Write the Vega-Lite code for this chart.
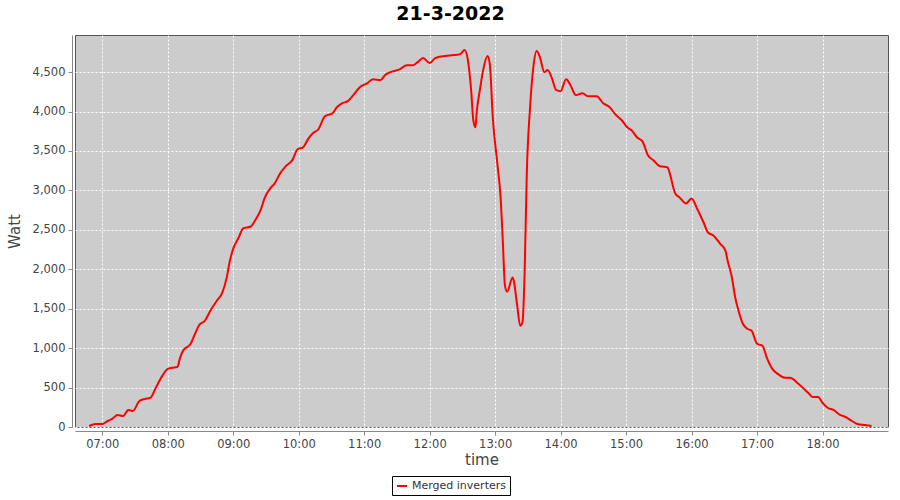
{
  "$schema": "https://vega.github.io/schema/vega-lite/v6.json",
  "width": 813,
  "height": 392,
  "autosize": "none",
  "padding": {"left": 75, "top": 35, "right": 12, "bottom": 73},
  "background": "white",
  "config": {
    "view": {"fill": "#CCCCCC", "stroke": "#555555", "strokeWidth": 1}
  },
  "title": {
    "text": "21-3-2022",
    "fontSize": 19,
    "fontWeight": "bold",
    "font": "DejaVu Sans",
    "color": "black",
    "anchor": "middle",
    "dx": -31,
    "offset": 11
  },
  "data": {
    "values": [
      {"time": "2022-03-21T06:48", "watt": 13},
      {"time": "2022-03-21T06:54", "watt": 38},
      {"time": "2022-03-21T07:00", "watt": 38},
      {"time": "2022-03-21T07:05", "watt": 76},
      {"time": "2022-03-21T07:09", "watt": 102},
      {"time": "2022-03-21T07:14", "watt": 153},
      {"time": "2022-03-21T07:19", "watt": 140},
      {"time": "2022-03-21T07:24", "watt": 216},
      {"time": "2022-03-21T07:28", "watt": 203},
      {"time": "2022-03-21T07:34", "watt": 330},
      {"time": "2022-03-21T07:39", "watt": 356},
      {"time": "2022-03-21T07:44", "watt": 369},
      {"time": "2022-03-21T07:49", "watt": 496},
      {"time": "2022-03-21T07:55", "watt": 648},
      {"time": "2022-03-21T08:00", "watt": 737},
      {"time": "2022-03-21T08:04", "watt": 750},
      {"time": "2022-03-21T08:09", "watt": 763},
      {"time": "2022-03-21T08:11", "watt": 864},
      {"time": "2022-03-21T08:14", "watt": 966},
      {"time": "2022-03-21T08:21", "watt": 1055},
      {"time": "2022-03-21T08:25", "watt": 1182},
      {"time": "2022-03-21T08:29", "watt": 1296},
      {"time": "2022-03-21T08:34", "watt": 1347},
      {"time": "2022-03-21T08:39", "watt": 1474},
      {"time": "2022-03-21T08:45", "watt": 1601},
      {"time": "2022-03-21T08:50", "watt": 1703},
      {"time": "2022-03-21T08:54", "watt": 1894},
      {"time": "2022-03-21T08:57", "watt": 2110},
      {"time": "2022-03-21T09:00", "watt": 2262},
      {"time": "2022-03-21T09:05", "watt": 2402},
      {"time": "2022-03-21T09:09", "watt": 2517},
      {"time": "2022-03-21T09:16", "watt": 2542},
      {"time": "2022-03-21T09:20", "watt": 2618},
      {"time": "2022-03-21T09:25", "watt": 2745},
      {"time": "2022-03-21T09:29", "watt": 2911},
      {"time": "2022-03-21T09:34", "watt": 3025},
      {"time": "2022-03-21T09:38", "watt": 3089},
      {"time": "2022-03-21T09:43", "watt": 3216},
      {"time": "2022-03-21T09:48", "watt": 3305},
      {"time": "2022-03-21T09:54", "watt": 3381},
      {"time": "2022-03-21T09:59", "watt": 3521},
      {"time": "2022-03-21T10:04", "watt": 3546},
      {"time": "2022-03-21T10:09", "watt": 3660},
      {"time": "2022-03-21T10:13", "watt": 3724},
      {"time": "2022-03-21T10:18", "watt": 3775},
      {"time": "2022-03-21T10:24", "watt": 3940},
      {"time": "2022-03-21T10:31", "watt": 3978},
      {"time": "2022-03-21T10:35", "watt": 4054},
      {"time": "2022-03-21T10:40", "watt": 4105},
      {"time": "2022-03-21T10:45", "watt": 4131},
      {"time": "2022-03-21T10:50", "watt": 4207},
      {"time": "2022-03-21T10:56", "watt": 4309},
      {"time": "2022-03-21T11:03", "watt": 4360},
      {"time": "2022-03-21T11:08", "watt": 4410},
      {"time": "2022-03-21T11:15", "watt": 4398},
      {"time": "2022-03-21T11:19", "watt": 4461},
      {"time": "2022-03-21T11:24", "watt": 4499},
      {"time": "2022-03-21T11:33", "watt": 4537},
      {"time": "2022-03-21T11:39", "watt": 4588},
      {"time": "2022-03-21T11:45", "watt": 4588},
      {"time": "2022-03-21T11:49", "watt": 4626},
      {"time": "2022-03-21T11:54", "watt": 4677},
      {"time": "2022-03-21T12:00", "watt": 4614},
      {"time": "2022-03-21T12:05", "watt": 4677},
      {"time": "2022-03-21T12:14", "watt": 4703},
      {"time": "2022-03-21T12:22", "watt": 4715},
      {"time": "2022-03-21T12:28", "watt": 4728},
      {"time": "2022-03-21T12:32", "watt": 4779},
      {"time": "2022-03-21T12:35", "watt": 4652},
      {"time": "2022-03-21T12:38", "watt": 4271},
      {"time": "2022-03-21T12:40", "watt": 3889},
      {"time": "2022-03-21T12:42", "watt": 3800},
      {"time": "2022-03-21T12:43", "watt": 3978},
      {"time": "2022-03-21T12:46", "watt": 4271},
      {"time": "2022-03-21T12:49", "watt": 4525},
      {"time": "2022-03-21T12:53", "watt": 4703},
      {"time": "2022-03-21T12:55", "watt": 4614},
      {"time": "2022-03-21T12:58", "watt": 3889},
      {"time": "2022-03-21T13:02", "watt": 3343},
      {"time": "2022-03-21T13:05", "watt": 2911},
      {"time": "2022-03-21T13:07", "watt": 2364},
      {"time": "2022-03-21T13:09", "watt": 1792},
      {"time": "2022-03-21T13:11", "watt": 1716},
      {"time": "2022-03-21T13:16", "watt": 1894},
      {"time": "2022-03-21T13:17", "watt": 1856},
      {"time": "2022-03-21T13:20", "watt": 1563},
      {"time": "2022-03-21T13:23", "watt": 1284},
      {"time": "2022-03-21T13:25", "watt": 1322},
      {"time": "2022-03-21T13:27", "watt": 1945},
      {"time": "2022-03-21T13:29", "watt": 3216},
      {"time": "2022-03-21T13:32", "watt": 4054},
      {"time": "2022-03-21T13:35", "watt": 4563},
      {"time": "2022-03-21T13:38", "watt": 4766},
      {"time": "2022-03-21T13:41", "watt": 4690},
      {"time": "2022-03-21T13:45", "watt": 4499},
      {"time": "2022-03-21T13:48", "watt": 4525},
      {"time": "2022-03-21T13:52", "watt": 4423},
      {"time": "2022-03-21T13:56", "watt": 4271},
      {"time": "2022-03-21T14:00", "watt": 4258},
      {"time": "2022-03-21T14:05", "watt": 4410},
      {"time": "2022-03-21T14:09", "watt": 4334},
      {"time": "2022-03-21T14:14", "watt": 4207},
      {"time": "2022-03-21T14:20", "watt": 4232},
      {"time": "2022-03-21T14:25", "watt": 4194},
      {"time": "2022-03-21T14:33", "watt": 4194},
      {"time": "2022-03-21T14:39", "watt": 4105},
      {"time": "2022-03-21T14:45", "watt": 4054},
      {"time": "2022-03-21T14:50", "watt": 3966},
      {"time": "2022-03-21T14:56", "watt": 3889},
      {"time": "2022-03-21T15:01", "watt": 3800},
      {"time": "2022-03-21T15:05", "watt": 3762},
      {"time": "2022-03-21T15:10", "watt": 3673},
      {"time": "2022-03-21T15:15", "watt": 3622},
      {"time": "2022-03-21T15:20", "watt": 3444},
      {"time": "2022-03-21T15:25", "watt": 3381},
      {"time": "2022-03-21T15:31", "watt": 3305},
      {"time": "2022-03-21T15:38", "watt": 3292},
      {"time": "2022-03-21T15:40", "watt": 3216},
      {"time": "2022-03-21T15:45", "watt": 2961},
      {"time": "2022-03-21T15:49", "watt": 2911},
      {"time": "2022-03-21T15:55", "watt": 2834},
      {"time": "2022-03-21T16:00", "watt": 2898},
      {"time": "2022-03-21T16:05", "watt": 2771},
      {"time": "2022-03-21T16:11", "watt": 2593},
      {"time": "2022-03-21T16:15", "watt": 2466},
      {"time": "2022-03-21T16:20", "watt": 2428},
      {"time": "2022-03-21T16:26", "watt": 2326},
      {"time": "2022-03-21T16:31", "watt": 2237},
      {"time": "2022-03-21T16:33", "watt": 2110},
      {"time": "2022-03-21T16:37", "watt": 1894},
      {"time": "2022-03-21T16:40", "watt": 1640},
      {"time": "2022-03-21T16:43", "watt": 1474},
      {"time": "2022-03-21T16:47", "watt": 1309},
      {"time": "2022-03-21T16:51", "watt": 1246},
      {"time": "2022-03-21T16:55", "watt": 1220},
      {"time": "2022-03-21T17:00", "watt": 1055},
      {"time": "2022-03-21T17:05", "watt": 1030},
      {"time": "2022-03-21T17:09", "watt": 877},
      {"time": "2022-03-21T17:14", "watt": 737},
      {"time": "2022-03-21T17:19", "watt": 674},
      {"time": "2022-03-21T17:26", "watt": 623},
      {"time": "2022-03-21T17:30", "watt": 623},
      {"time": "2022-03-21T17:37", "watt": 559},
      {"time": "2022-03-21T17:42", "watt": 496},
      {"time": "2022-03-21T17:47", "watt": 432},
      {"time": "2022-03-21T17:51", "watt": 381},
      {"time": "2022-03-21T17:56", "watt": 381},
      {"time": "2022-03-21T18:00", "watt": 305},
      {"time": "2022-03-21T18:05", "watt": 241},
      {"time": "2022-03-21T18:10", "watt": 216},
      {"time": "2022-03-21T18:16", "watt": 153},
      {"time": "2022-03-21T18:21", "watt": 127},
      {"time": "2022-03-21T18:27", "watt": 76},
      {"time": "2022-03-21T18:32", "watt": 38},
      {"time": "2022-03-21T18:39", "watt": 25},
      {"time": "2022-03-21T18:45", "watt": 13}
    ]
  },
  "mark": {"type": "line", "strokeWidth": 2, "interpolate": "monotone"},
  "encoding": {
    "x": {
      "field": "time",
      "type": "temporal",
      "scale": {
        "domain": [
          {"year": 2022, "month": 3, "date": 21, "hours": 6, "minutes": 35},
          {"year": 2022, "month": 3, "date": 21, "hours": 18, "minutes": 59, "seconds": 59}
        ]
      },
      "axis": {
        "title": "time",
        "format": "%H:%M",
        "tickCount": 13,
        "labelFont": "DejaVu Sans",
        "labelFontSize": 11.5,
        "labelColor": "#444444",
        "labelPadding": 3,
        "labelFlush": false,
        "titleFont": "DejaVu Sans",
        "titleFontSize": 15,
        "titleFontWeight": "normal",
        "titleColor": "#444444",
        "titlePadding": 3,
        "domainColor": "#888888",
        "tickColor": "#888888",
        "tickSize": 4,
        "offset": 4,
        "grid": true,
        "gridColor": "white",
        "gridDash": [2, 2],
        "gridWidth": 1,
        "gridOpacity": 1
      }
    },
    "y": {
      "field": "watt",
      "type": "quantitative",
      "scale": {"domain": [0, 4970], "nice": false},
      "axis": {
        "title": "Watt",
        "format": ",d",
        "values": [0, 500, 1000, 1500, 2000, 2500, 3000, 3500, 4000, 4500],
        "labelFont": "DejaVu Sans",
        "labelFontSize": 11.5,
        "labelColor": "#444444",
        "labelPadding": 3,
        "titleFont": "DejaVu Sans",
        "titleFontSize": 15,
        "titleFontWeight": "normal",
        "titleColor": "#444444",
        "titlePadding": 10,
        "domainColor": "#888888",
        "tickColor": "#888888",
        "tickSize": 4,
        "offset": 3,
        "grid": true,
        "gridColor": "white",
        "gridDash": [2, 2],
        "gridWidth": 1,
        "gridOpacity": 1
      }
    },
    "color": {
      "datum": "Merged inverters",
      "scale": {"range": ["#FF0000"]},
      "legend": {
        "title": null,
        "orient": "none",
        "legendX": 317,
        "legendY": 441,
        "strokeColor": "black",
        "fillColor": "white",
        "padding": 4,
        "symbolType": "stroke",
        "symbolStrokeWidth": 2,
        "labelFont": "DejaVu Sans",
        "labelFontSize": 11,
        "labelColor": "#333333"
      }
    }
  }
}
